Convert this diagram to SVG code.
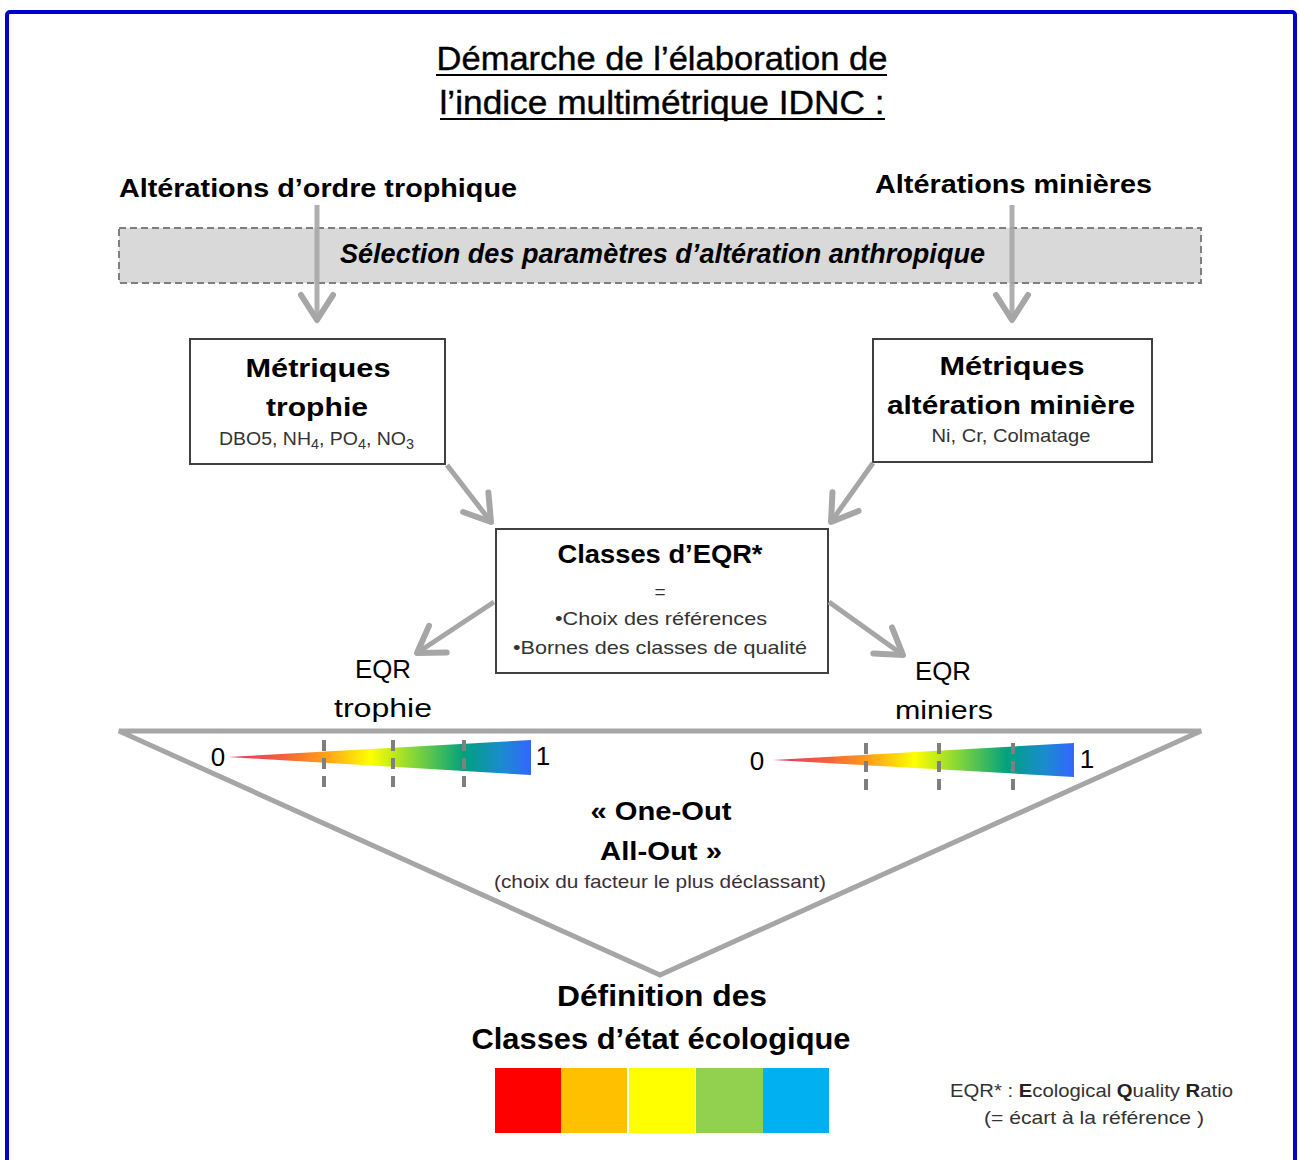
<svg xmlns="http://www.w3.org/2000/svg" width="1300" height="1160" viewBox="0 0 1300 1160">
<style>
text{font-family:"Liberation Sans",Arial,sans-serif;fill:#000}
.c{text-anchor:middle}
.b{font-weight:bold}
.sm{font-size:19px;fill:#333}
.box{fill:#fff;stroke:#404040;stroke-width:2}
.con{fill:none;stroke:#a6a6a6;stroke-width:5}
.tick{stroke:#7f7f7f;stroke-width:4;stroke-dasharray:11,7}
</style>
<defs>
<marker id="arr" markerUnits="userSpaceOnUse" markerWidth="40" markerHeight="40" viewBox="-30 -20 40 40" refX="0" refY="0" orient="auto" overflow="visible">
<path d="M-25,-16 L0,0 L-25,16" fill="none" stroke="#a6a6a6" stroke-width="6" stroke-linecap="round" stroke-linejoin="round"/>
</marker>
<linearGradient id="grad" x1="0" y1="0" x2="1" y2="0">
<stop offset="0" stop-color="#e8326e"/>
<stop offset="0.18" stop-color="#f4603a"/>
<stop offset="0.32" stop-color="#ff9f1a"/>
<stop offset="0.47" stop-color="#ffff00"/>
<stop offset="0.62" stop-color="#80d43a"/>
<stop offset="0.78" stop-color="#00a080"/>
<stop offset="0.9" stop-color="#1a8ccc"/>
<stop offset="1" stop-color="#3366ff"/>
</linearGradient>
</defs>
<rect x="0" y="0" width="1300" height="1160" fill="#fff"/>
<rect x="7" y="12" width="1288" height="1170" rx="3" fill="none" stroke="#0000cc" stroke-width="4"/>

<g id="title">
<text class="c" x="662" y="70" font-size="33" textLength="451" lengthAdjust="spacingAndGlyphs" stroke="#000" stroke-width="0.4">Démarche de l’élaboration de</text>
<line x1="436" y1="75" x2="887" y2="75" stroke="#000" stroke-width="2"/>
<text class="c" x="662" y="114" font-size="33" textLength="445" lengthAdjust="spacingAndGlyphs" stroke="#000" stroke-width="0.4">l’indice multimétrique IDNC :</text>
<line x1="440" y1="119" x2="885" y2="119" stroke="#000" stroke-width="2"/>
</g>

<g id="alt-trophique"><text class="b" x="119" y="197" font-size="26" textLength="398" lengthAdjust="spacingAndGlyphs">Altérations d’ordre trophique</text></g>
<g id="alt-minieres"><text class="b" x="875" y="193" font-size="26" textLength="277" lengthAdjust="spacingAndGlyphs">Altérations minières</text></g>

<g id="selection">
<rect x="119" y="228" width="1082" height="55" fill="#d9d9d9" stroke="#7f7f7f" stroke-width="2" stroke-dasharray="7,4"/>
<text class="b" x="340" y="263" font-size="27" font-style="italic" textLength="645" lengthAdjust="spacingAndGlyphs">Sélection des paramètres d’altération anthropique</text>
</g>

<g id="metriques-trophie">
<rect class="box" x="190" y="339" width="255" height="125"/>
<text class="c b" x="318" y="377" font-size="26" textLength="145" lengthAdjust="spacingAndGlyphs">Métriques</text>
<text class="c b" x="317" y="416" font-size="26" textLength="102" lengthAdjust="spacingAndGlyphs">trophie</text>
<text class="sm" x="219" y="445" textLength="195" lengthAdjust="spacingAndGlyphs">DBO5, NH<tspan font-size="14" dy="4">4</tspan><tspan dy="-4">, PO</tspan><tspan font-size="14" dy="4">4</tspan><tspan dy="-4">, NO</tspan><tspan font-size="14" dy="4">3</tspan></text>
</g>

<g id="metriques-miniere">
<rect class="box" x="873" y="339" width="279" height="123"/>
<text class="c b" x="1012" y="375" font-size="26" textLength="145" lengthAdjust="spacingAndGlyphs">Métriques</text>
<text class="c b" x="1011" y="414" font-size="26" textLength="248" lengthAdjust="spacingAndGlyphs">altération minière</text>
<text class="c sm" x="1011" y="442" textLength="159" lengthAdjust="spacingAndGlyphs">Ni, Cr, Colmatage</text>
</g>

<g id="classes-eqr">
<rect class="box" x="496" y="529" width="332" height="144"/>
<text class="c b" x="660" y="563" font-size="26" textLength="205" lengthAdjust="spacingAndGlyphs">Classes d’EQR*</text>
<text class="c sm" x="660" y="598">=</text>
<text class="c sm" x="661" y="625" textLength="212" lengthAdjust="spacingAndGlyphs">•Choix des références</text>
<text class="c sm" x="660" y="654" textLength="294" lengthAdjust="spacingAndGlyphs">•Bornes des classes de qualité</text>
</g>

<g id="eqr-trophie">
<text class="c" x="383" y="678" font-size="26" textLength="56" lengthAdjust="spacingAndGlyphs">EQR</text>
<text class="c" x="383" y="717" font-size="26" textLength="98" lengthAdjust="spacingAndGlyphs">trophie</text>
</g>
<g id="eqr-miniers">
<text class="c" x="943" y="680" font-size="26" textLength="56" lengthAdjust="spacingAndGlyphs">EQR</text>
<text class="c" x="944" y="719" font-size="26" textLength="98" lengthAdjust="spacingAndGlyphs">miniers</text>
</g>

<g id="connectors">
<line class="con" x1="317" y1="205" x2="317" y2="320" marker-end="url(#arr)" stroke-opacity="0.9"/>
<line class="con" x1="1012" y1="205" x2="1012" y2="320" marker-end="url(#arr)" stroke-opacity="0.9"/>
<line class="con" x1="447" y1="465" x2="491" y2="522" marker-end="url(#arr)"/>
<line class="con" x1="873" y1="463" x2="831" y2="522" marker-end="url(#arr)"/>
<line class="con" x1="494" y1="602" x2="417" y2="653" marker-end="url(#arr)"/>
<line class="con" x1="829" y1="602" x2="903" y2="655" marker-end="url(#arr)"/>
</g>

<g id="one-out-all-out">
<polygon points="119,731 1201,731 660,975" fill="none" stroke="#a6a6a6" stroke-width="5" stroke-linejoin="miter"/>
<polygon points="228,757 531,740 531,775" fill="url(#grad)"/>
<line class="tick" x1="324" y1="740" x2="324" y2="792"/>
<line class="tick" x1="393" y1="740" x2="393" y2="792"/>
<line class="tick" x1="464" y1="740" x2="464" y2="792"/>
<text class="c" x="218" y="766" font-size="26">0</text>
<text class="c" x="543" y="765" font-size="26">1</text>
<polygon points="773,760 1074,743 1074,777" fill="url(#grad)"/>
<line class="tick" x1="866" y1="743" x2="866" y2="792"/>
<line class="tick" x1="939" y1="743" x2="939" y2="792"/>
<line class="tick" x1="1013" y1="743" x2="1013" y2="792"/>
<text class="c" x="757" y="770" font-size="26">0</text>
<text class="c" x="1087" y="768" font-size="26">1</text>
<text class="c b" x="661" y="820" font-size="26" textLength="141" lengthAdjust="spacingAndGlyphs">« One-Out</text>
<text class="c b" x="661" y="860" font-size="26" textLength="122" lengthAdjust="spacingAndGlyphs">All-Out »</text>
<text class="c sm" x="660" y="888" textLength="332" lengthAdjust="spacingAndGlyphs" style="fill:#3a2e3a">(choix du facteur le plus déclassant)</text>
</g>

<g id="definition">
<text class="c b" x="662" y="1006" font-size="30" textLength="210" lengthAdjust="spacingAndGlyphs">Définition des</text>
<text class="c b" x="661" y="1049" font-size="30" textLength="379" lengthAdjust="spacingAndGlyphs">Classes d’état écologique</text>
<rect x="495" y="1068" width="66" height="65" fill="#ff0000"/>
<rect x="561" y="1068" width="66" height="65" fill="#ffc000"/>
<rect x="629" y="1068" width="66" height="65" fill="#ffff00"/>
<rect x="696" y="1068" width="67" height="65" fill="#92d050"/>
<rect x="763" y="1068" width="66" height="65" fill="#00b0f0"/>
</g>

<g id="footnote">
<text class="sm" x="950" y="1097" textLength="283" lengthAdjust="spacingAndGlyphs">EQR* : <tspan font-weight="bold" fill="#222">E</tspan>cological <tspan font-weight="bold" fill="#222">Q</tspan>uality <tspan font-weight="bold" fill="#222">R</tspan>atio</text>
<text class="c sm" x="1094" y="1124" textLength="220" lengthAdjust="spacingAndGlyphs">(= écart à la référence )</text>
</g>
</svg>
